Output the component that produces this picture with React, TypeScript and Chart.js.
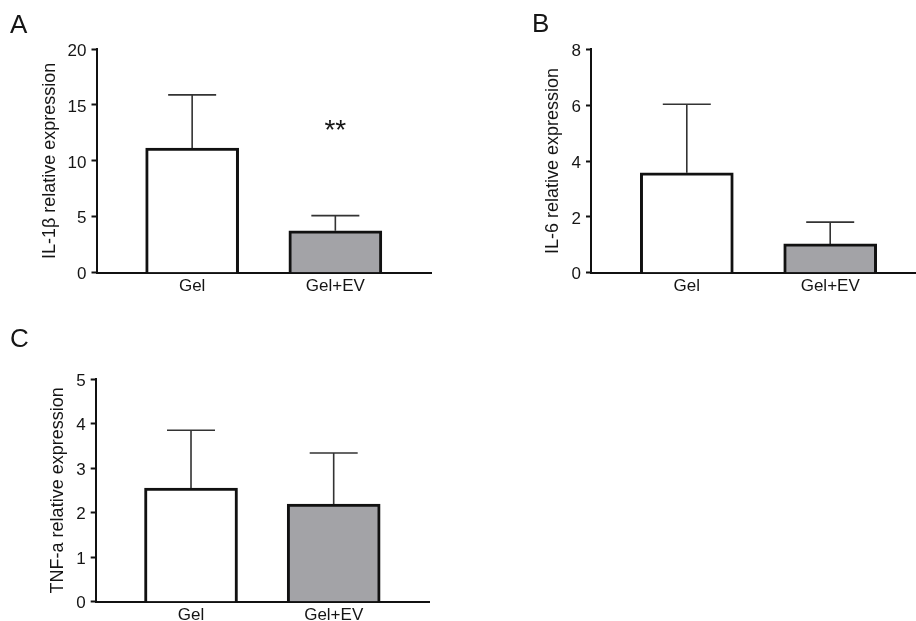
import React, { useEffect, useRef } from 'react';
import { Chart, registerables } from 'chart.js';

Chart.register(...registerables);

// ---- data ----
const categories = ['Gel', 'Gel+EV'];

const il1bMean = [11.15, 3.75];
const il1bSd = [4.75, 1.35];
const il1bStars = ['', '**'];
const il1bStarValue = [0, 13.4];

const il6Mean = [3.58, 1.03];
const il6Sd = [2.45, 0.78];

const tnfMean = [2.55, 2.19];
const tnfSd = [1.3, 1.15];

const il1bAxis = { max: 20, step: 5 };
const il6Axis = { max: 8, step: 2 };
const tnfAxis = { max: 5, step: 1 };

const barFills = ['#ffffff', '#a3a3a7'];

const FONT = "'Liberation Sans', Arial, Helvetica, sans-serif";
const TEXT = '#151515';

const errorBarPlugin = {
  id: 'errorBars',
  beforeDatasetsDraw(chart: any, _args: any, opts: any) {
    const { ctx } = chart;
    const meta = chart.getDatasetMeta(0);
    const yScale = chart.scales.y;
    ctx.save();
    ctx.strokeStyle = '#333333';
    ctx.lineWidth = 1.6;
    meta.data.forEach((bar: any, i: number) => {
      const base = yScale.getPixelForValue(opts.mean[i]);
      const top = yScale.getPixelForValue(opts.mean[i] + opts.sd[i]);
      ctx.beginPath();
      ctx.moveTo(bar.x, base);
      ctx.lineTo(bar.x, top);
      ctx.moveTo(bar.x - opts.cap, top);
      ctx.lineTo(bar.x + opts.cap, top);
      ctx.stroke();
    });
    ctx.restore();
  },
  afterDatasetsDraw(chart: any, _args: any, opts: any) {
    if (!opts.stars) return;
    const { ctx } = chart;
    const meta = chart.getDatasetMeta(0);
    const yScale = chart.scales.y;
    ctx.save();
    const fs = 28;
    ctx.font = `${fs}px ${FONT}`;
    ctx.fillStyle = TEXT;
    ctx.textAlign = 'center';
    ctx.textBaseline = 'alphabetic';
    meta.data.forEach((bar: any, i: number) => {
      const s = opts.stars[i];
      if (!s) return;
      const y = yScale.getPixelForValue(opts.starValue[i]);
      ctx.fillText(s, bar.x, y + fs * 0.57);
    });
    ctx.restore();
  },
};

type PanelProps = {
  left: number;
  top: number;
  width: number;
  height: number;
  mean: number[];
  sd: number[];
  axis: { max: number; step: number };
  title: string;
  pad: { left: number; right: number; top: number; bottom: number };
  yWidth: number;
  xHeight: number;
  stars?: string[];
  starValue?: number[];
};

function Panel(p: PanelProps) {
  const ref = useRef<HTMLCanvasElement>(null);
  useEffect(() => {
    if (!ref.current) return;
    const chart = new Chart(ref.current, {
      type: 'bar',
      data: {
        datasets: [
          {
            data: categories.map((_, i) => ({ x: i, y: p.mean[i] })),
            backgroundColor: barFills,
            borderColor: '#111111',
            borderWidth: 3,
            barThickness: 93,
          } as any,
        ],
      },
      plugins: [errorBarPlugin as any],
      options: {
        animation: false,
        responsive: false,
        maintainAspectRatio: false,
        layout: { padding: p.pad },
        plugins: {
          legend: { display: false },
          tooltip: { enabled: false },
          errorBars: {
            mean: p.mean,
            sd: p.sd,
            cap: 24,
            stars: p.stars,
            starValue: p.starValue,
          },
        } as any,
        scales: {
          x: {
            type: 'linear',
            offset: false,
            bounds: 'data',
            min: -0.668,
            max: 1.668,
            afterBuildTicks: (scale: any) => {
              scale.ticks = categories.map((_, i) => ({ value: i }));
            },
            afterDataLimits: (scale: any) => {
              scale.min = -0.668;
              scale.max = 1.668;
            },
            afterFit: (scale: any) => {
              scale.height = p.xHeight;
            },
            grid: { display: false, drawTicks: false, tickLength: 0, offset: false },
            border: { display: true, color: '#111111', width: 2 },
            ticks: {
              autoSkip: false,
              maxRotation: 0,
              padding: 3,
              color: TEXT,
              font: { family: FONT, size: 17 },
              callback: (v: any) => categories[v as number] ?? '',
            },
          },
          y: {
            type: 'linear',
            min: 0,
            max: p.axis.max,
            afterFit: (scale: any) => {
              scale.width = p.yWidth;
            },
            grid: {
              drawOnChartArea: false,
              drawTicks: true,
              tickLength: 5,
              tickWidth: 2,
              tickColor: '#111111',
              color: '#111111',
            },
            border: { display: true, color: '#111111', width: 2 },
            ticks: {
              stepSize: p.axis.step,
              padding: 5,
              labelOffset: 2,
              color: TEXT,
              font: { family: FONT, size: 17 },
            },
            title: {
              display: true,
              text: p.title,
              color: TEXT,
              padding: 0,
              font: { family: FONT, size: 18 },
            },
          },
        },
      } as any,
    });
    return () => chart.destroy();
  }, []);
  return (
    <canvas
      ref={ref}
      width={p.width}
      height={p.height}
      style={{
        position: 'absolute',
        left: p.left,
        top: p.top,
        width: p.width,
        height: p.height,
      }}
    />
  );
}

const letterStyle = (left: number, top: number): React.CSSProperties => ({
  position: 'absolute',
  left,
  top,
  fontFamily: FONT,
  fontSize: 26,
  lineHeight: '26px',
  color: TEXT,
});

export default function App() {
  return (
    <div
      style={{
        position: 'absolute',
        left: 0,
        top: 0,
        width: 916,
        height: 621,
        overflow: 'hidden',
        background: '#ffffff',
      }}
    >
      <Panel
        left={0}
        top={0}
        width={460}
        height={310}
        mean={il1bMean}
        sd={il1bSd}
        axis={il1bAxis}
        title="IL-1β relative expression"
        pad={{ left: 39.2, right: 29, top: 49, bottom: 7.3 }}
        yWidth={57.3}
        xHeight={30}
        stars={il1bStars}
        starValue={il1bStarValue}
      />
      <Panel
        left={460}
        top={0}
        width={500}
        height={310}
        mean={il6Mean}
        sd={il6Sd}
        axis={il6Axis}
        title="IL-6 relative expression"
        pad={{ left: 81.9, right: 34, top: 49.3, bottom: 7.3 }}
        yWidth={49.1}
        xHeight={30}
      />
      <Panel
        left={0}
        top={310}
        width={460}
        height={311}
        mean={tnfMean}
        sd={tnfSd}
        axis={tnfAxis}
        title="TNF-a relative expression"
        pad={{ left: 47.5, right: 31, top: 69, bottom: 0 }}
        yWidth={48.2}
        xHeight={19.3}
      />
      <div style={letterStyle(10, 11)}>A</div>
      <div style={letterStyle(532, 10)}>B</div>
      <div style={letterStyle(10, 325)}>C</div>
    </div>
  );
}
